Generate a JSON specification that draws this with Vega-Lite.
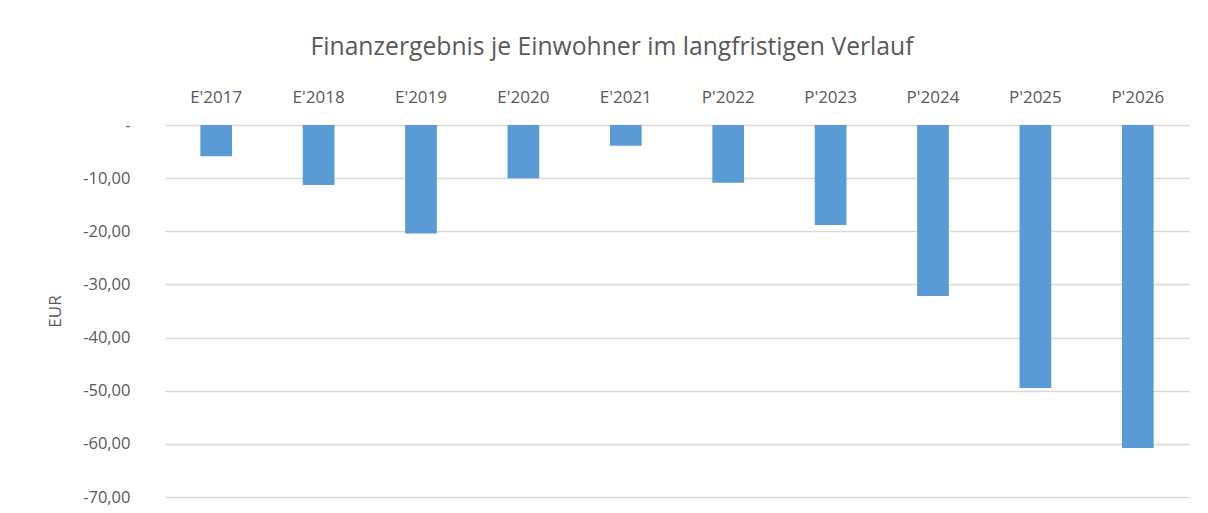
{
  "$schema": "https://vega.github.io/schema/vega-lite/v6.json",
  "width": 1024,
  "height": 372,
  "autosize": {"type": "none"},
  "padding": {"left": 165, "top": 125, "right": 19, "bottom": 16},
  "background": "white",
  "title": {
    "text": "Finanzergebnis je Einwohner im langfristigen Verlauf",
    "anchor": "middle",
    "frame": "group",
    "dx": -65,
    "offset": 28,
    "font": "Open Sans",
    "fontSize": 24.7,
    "fontWeight": "normal",
    "color": "#595959"
  },
  "data": {
    "values": [
      {"jahr": "E'2017", "wert": -5.9},
      {"jahr": "E'2018", "wert": -11.3},
      {"jahr": "E'2019", "wert": -20.4},
      {"jahr": "E'2020", "wert": -10.0},
      {"jahr": "E'2021", "wert": -3.9},
      {"jahr": "P'2022", "wert": -10.85},
      {"jahr": "P'2023", "wert": -18.8},
      {"jahr": "P'2024", "wert": -32.2},
      {"jahr": "P'2025", "wert": -49.5},
      {"jahr": "P'2026", "wert": -60.8}
    ]
  },
  "mark": {"type": "bar", "color": "#5B9BD5"},
  "encoding": {
    "x": {
      "field": "jahr",
      "type": "nominal",
      "sort": null,
      "scale": {"paddingInner": 0.69, "paddingOuter": 0.345},
      "axis": {
        "orient": "top",
        "title": null,
        "labelAngle": 0,
        "domain": false,
        "ticks": false,
        "labelPadding": 19,
        "labelFont": "Open Sans",
        "labelFontSize": 17,
        "labelColor": "#595959"
      }
    },
    "y": {
      "field": "wert",
      "type": "quantitative",
      "scale": {"domain": [-70, 0], "nice": false, "zero": false},
      "axis": {
        "title": "EUR",
        "values": [0, -10, -20, -30, -40, -50, -60, -70],
        "labelExpr": "datum.value == 0 ? '-' : '-' + replace(format(-datum.value, '.2f'), '.', ',')",
        "domain": false,
        "ticks": false,
        "labelPadding": 35,
        "labelFont": "Open Sans",
        "labelFontSize": 16.5,
        "labelColor": "#595959",
        "grid": true,
        "gridColor": "#D9D9D9",
        "gridWidth": 1.5,
        "titleFont": "Open Sans",
        "titleFontSize": 17,
        "titleFontWeight": "normal",
        "titleColor": "#595959",
        "titleX": -110,
        "titleY": 186,
        "titleAngle": 270,
        "titleAlign": "center",
        "titleBaseline": "middle"
      }
    }
  },
  "config": {
    "view": {"stroke": null}
  }
}
